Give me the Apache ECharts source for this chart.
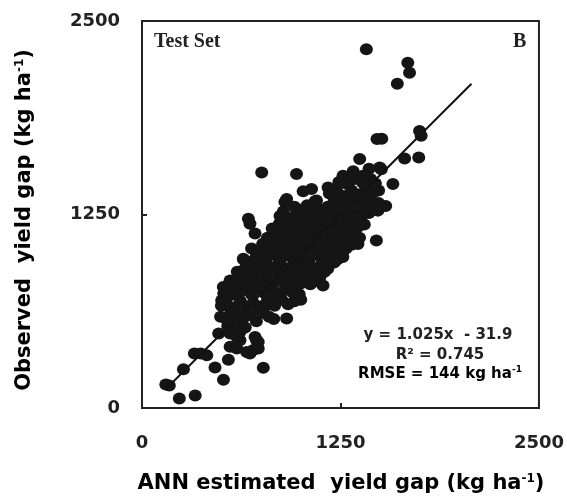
<!DOCTYPE html>
<html><head><meta charset="utf-8">
<script src="https://cdn.jsdelivr.net/npm/echarts@6/dist/echarts.min.js"></script>
<style>html,body{margin:0;padding:0;background:#fff}#c{width:567px;height:498px}</style>
</head><body><div id="c"></div>
<script>
// Axis ticks
const xTicks = [0, 1250, 2500];
const yTicks = [0, 1250, 2500];
// Regression
const fitSlope = 1.025, fitIntercept = -31.9;
const fitX = [146, 2075];
// Observed vs estimated points [ANN estimated, observed]
const lowerTail = [[150,152],[172,146],[235,62],[335,80],[261,250],[330,352],[370,352],[408,340],
 [460,262],[513,182],[544,312],[764,260],[483,481],[555,481],[575,481],[617,491],[617,438],[597,459],
 [555,395],[597,384],[659,362],[680,352],[701,374],[722,438],[732,427],[732,384],[712,459],
 [528,578],[911,578],[502,695],[523,728],[512,781],[555,824],[540,530],[600,540],[650,520]];
const corePoints = [
 [495,590],[540,565],[590,610],[635,575],[680,600],[720,560],[760,615],[800,590],[830,575],
 [500,660],[530,700],[575,650],[620,690],[660,645],[700,680],[745,655],[790,695],[835,660],[880,700],[920,670],[960,690],[1000,700],
 [515,740],[560,760],[600,725],[645,770],[690,735],[730,775],[775,740],[815,760],[860,730],[905,770],[950,745],[990,735],
 [550,805],[600,830],[640,800],[690,845],[730,810],[775,840],[820,800],[865,835],[910,810],[955,845],[1000,805],[1040,830],[1080,815],[1120,845],
 [600,880],[650,905],[700,875],[745,915],[790,880],[835,910],[880,870],[925,905],[970,880],[1015,915],[1060,875],[1105,905],[1150,880],[1170,900],
 [640,960],[690,945],[735,985],[780,950],[825,990],[870,955],[915,985],[960,945],[1005,980],[1050,950],[1095,990],[1140,955],[1185,975],[1230,960],[1265,975],
 [690,1030],[740,1010],[790,1045],[835,1015],[880,1055],[925,1020],[970,1050],[1015,1015],[1060,1050],[1105,1025],[1150,1060],[1195,1020],[1240,1045],[1285,1030],[1320,1055],[1360,1060],
 [790,1100],[835,1080],[880,1120],[925,1090],[970,1125],[1015,1085],[1060,1115],[1105,1080],[1150,1120],[1195,1090],[1240,1125],[1285,1095],[1330,1115],[1370,1100],
 [820,1160],[865,1190],[910,1155],[955,1195],[1000,1165],[1045,1200],[1090,1160],[1135,1190],[1180,1150],[1225,1195],[1270,1165],[1315,1200],[1360,1170],[1400,1185],
 [880,1240],[930,1225],[975,1265],[1025,1230],[1070,1270],[1115,1235],[1160,1260],[1205,1225],[1250,1265],[1295,1235],[1340,1270],[1385,1240],[1430,1260]];
const fillPoints = [[560,620],[610,640],[700,630],[770,650],[850,690],[540,720],[620,750],[710,760],[800,720],[880,750],
 [970,760],[580,790],[670,820],[760,790],[850,820],[940,790],[1060,800],[630,860],[720,850],[810,860],[900,850],[990,860],
 [1090,860],[670,920],[770,930],[860,930],[950,920],[1040,930],[1130,930],[1210,940],[720,980],[800,1000],[900,1000],
 [990,1000],[1080,1000],[1170,1000],[1260,1000],[760,1060],[860,1090],[950,1070],[1040,1070],[1130,1090],[1220,1070],
 [1310,1080],[850,1130],[940,1140],[1030,1140],[1120,1140],[1210,1140],[1300,1140],[900,1210],[990,1210],[1080,1220],
 [1170,1210],[1260,1210],[1350,1220],[1000,1280],[1130,1280],[1220,1285],[1320,1290],[1400,1290],[1230,1360],[1330,1360],[1430,1360]];
const upperPoints = [
 [900,1330],[960,1300],[1040,1310],[1090,1335],[1170,1300],[1210,1335],[1255,1305],[1300,1340],[1345,1310],[1390,1335],[1440,1300],[1490,1325],[1535,1305],
 [1180,1385],[1225,1410],[1270,1370],[1320,1405],[1365,1380],[1410,1420],[1455,1390],[1490,1405],
 [1240,1460],[1295,1445],[1340,1480],[1390,1455],[1440,1480],[1470,1450],[1330,1530],[1430,1545]];
const outlierPoints = [[670,1222],[680,1190],[712,1127],[764,1061],[638,964],[754,1522],[973,1511],[911,1350],
 [869,1240],[890,1270],[1015,1400],[1068,1415],[1099,1340],[1172,1425],[1140,792],[1476,1082],[1486,1275],
 [1580,1447],[1507,1543],[1266,1500],[1392,1500],[1497,1554],[1371,1608],[1480,1737],[1510,1740],
 [1654,1612],[1743,1618],[1748,1790],[1758,1758],[1413,2317],[1674,2230],[1685,2166],[1608,2095]];

const allPoints = lowerTail.concat(corePoints, fillPoints, upperPoints, outlierPoints);
const fitLine = fitX.map(x => [x, fitSlope * x + fitIntercept]);

const SANS = '"DejaVu Sans", Verdana, sans-serif';
const SERIF = '"Liberation Serif", "Times New Roman", serif';
const chart = echarts.init(document.getElementById('c'));
const lblFont = {fontFamily:SANS, fontWeight:'bold', fontSize:18, color:'#222', formatter: v => String(v)};
chart.setOption({
  animation:false,
  grid:{left:142, right:27, top:21, bottom:90, show:true, borderColor:'#222', borderWidth:2, backgroundColor:'transparent'},
  xAxis:{type:'value', min:xTicks[0], max:xTicks[2], interval:xTicks[1]-xTicks[0],
    axisLine:{show:true, lineStyle:{color:'#222', width:2}},
    axisTick:{show:true, inside:true, length:5, lineStyle:{color:'#222', width:2}},
    splitLine:{show:false},
    axisLabel:Object.assign({margin:26}, lblFont)},
  yAxis:{type:'value', min:yTicks[0], max:yTicks[2], interval:yTicks[1]-yTicks[0],
    axisLine:{show:true, lineStyle:{color:'#222', width:2}},
    axisTick:{show:true, inside:true, length:5, lineStyle:{color:'#222', width:2}},
    splitLine:{show:false},
    axisLabel:Object.assign({margin:22}, lblFont)},
  series:[
    {type:'scatter', data:allPoints, symbol:'circle', symbolSize:[13,12], itemStyle:{color:'#151515', opacity:1}, z:2},
    {type:'line', data:fitLine, symbol:'none', lineStyle:{color:'#111', width:2}, z:3}
  ],
  graphic:[
    {type:'text', left:154, top:32, style:{text:'Test Set', font:'bold 20px ' + SERIF, fill:'#222'}},
    {type:'text', left:513, top:32, style:{text:'B', font:'bold 20px ' + SERIF, fill:'#222'}},
    {type:'text', x:438, y:335, style:{text:'y = 1.025x  - 31.9', font:'bold 15px ' + SANS, fill:'#222', align:'center', verticalAlign:'middle'}},
    {type:'text', x:440, y:355, style:{text:'R² = 0.745', font:'bold 15px ' + SANS, fill:'#222', align:'center', verticalAlign:'middle'}},
    {type:'text', x:440, y:374, style:{text:'{a|RMSE = 144 kg ha}{s|-1}', align:'center', verticalAlign:'middle',
      rich:{a:{font:'bold 15px ' + SANS, color:'#222'}, s:{font:'bold 9px ' + SANS, color:'#222', padding:[0,0,8,0]}}}},
    {type:'text', x:341, y:484, style:{text:'{a|ANN estimated  yield gap (kg ha}{s|-1}{a|)}', align:'center', verticalAlign:'middle',
      rich:{a:{font:'bold 21px ' + SANS, color:'#222'}, s:{font:'bold 12px ' + SANS, color:'#222', padding:[0,0,10,0]}}}},
    {type:'text', x:25, y:220, rotation:Math.PI/2, style:{text:'{a|Observed  yield gap (kg ha}{s|-1}{a|)}', align:'center', verticalAlign:'middle',
      rich:{a:{font:'bold 21px ' + SANS, color:'#222'}, s:{font:'bold 12px ' + SANS, color:'#222', padding:[0,0,10,0]}}}}
  ]
});
</script></body></html>
